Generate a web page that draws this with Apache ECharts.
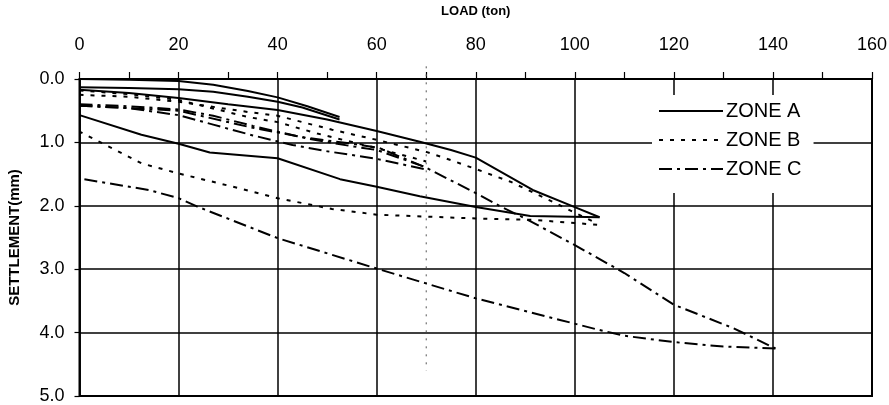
<!DOCTYPE html>
<html>
<head>
<meta charset="utf-8">
<script src="https://cdn.jsdelivr.net/npm/echarts@6/dist/echarts.min.js"></script>
<style>
html,body{margin:0;padding:0;background:#fff;}
#chart{width:889px;height:405px;}
</style>
</head>
<body>
<div id="chart"></div>
<script>
// ---- data: [load (ton), settlement (mm)] ----
const xTicks = [0, 20, 40, 60, 80, 100, 120, 140, 160];
const yTicks = [0, 1, 2, 3, 4, 5];
const legendNames = ['ZONE A', 'ZONE B', 'ZONE C'];

// ZONE A (solid)
const zoneA_load1   = [[0,0],[10,0.01],[20,0.03],[27,0.09],[34,0.19],[40,0.29],[46,0.43],[52.5,0.6]];
const zoneA_unload1 = [[52.5,0.64],[45,0.45],[40,0.36],[34,0.28],[27,0.2],[20,0.16],[10,0.14],[0,0.13]];
const zoneA_load2   = [[0,0.17],[10,0.22],[20,0.3],[30,0.4],[40,0.49],[50,0.64],[60,0.82],[68.7,0.99],[75,1.12],[80,1.24],[91.5,1.75],[100,2.02],[105,2.18]];
const zoneA_unload2 = [[105,2.18],[91,2.16],[80,2.02],[68.7,1.85],[60,1.7],[52.6,1.58],[40,1.25],[26.3,1.16],[20,1.02],[12.5,0.88],[0,0.57]];

// ZONE B (dotted)
const zoneB_load1   = [[0,0.18],[10,0.24],[20,0.33],[34,0.6],[40,0.68],[48,0.86],[60,1.09],[70,1.3]];
const zoneB_load2   = [[0,0.25],[10,0.28],[20,0.36],[34,0.52],[40,0.58],[51,0.8],[60,0.96],[70,1.15],[75,1.28],[80,1.42],[87,1.62],[95.6,1.94],[104.5,2.28]];
const zoneB_unload2 = [[104.5,2.3],[100,2.27],[91,2.22],[80,2.2],[60,2.14],[51,2.05],[40,1.88],[30,1.68],[20,1.49],[12.5,1.33],[0,0.83]];

// ZONE C (dash-dot)
const zoneC_load1   = [[0,0.4],[10,0.43],[20,0.48],[27,0.58],[35,0.74],[46,0.94],[55,1.06],[60,1.12],[69.5,1.38]];
const zoneC_unload1 = [[69.5,1.42],[60,1.26],[50,1.14],[43,1.04],[35,0.89],[27,0.72],[20,0.57],[10,0.46],[0,0.42]];
const zoneC_load2   = [[0,0.42],[20,0.5],[35,0.77],[46,0.93],[55,1.02],[60.6,1.09],[70,1.4],[80,1.8],[85,2.01],[90,2.2],[100,2.62],[110,3.06],[120,3.56],[132,3.93],[140.5,4.25]];
const zoneC_unload2 = [[140.5,4.25],[130,4.22],[120,4.15],[110,4.05],[105,3.96],[97,3.8],[80,3.46],[60,2.99],[40,2.51],[23.7,2.01],[20,1.88],[14,1.75],[0,1.57]];

// reference dotted vertical line at load 70, and the right-hand frame line at load 160
const refLine = [[70,-0.2],[70,4.6]];
const frameRight = [[160,0],[160,5]];

const FONT = "'Liberation Sans', Arial, sans-serif";
const styles = {
  'ZONE A': { type: 'solid' },
  'ZONE B': { type: [4, 7] },
  'ZONE C': { type: [13, 5, 3, 5] }
};
function mk(name, data) {
  return {
    type: 'line', name: name, data: data, symbol: 'none', showSymbol: false, smooth: false,
    lineStyle: { color: '#000', width: 2, type: styles[name].type },
    itemStyle: { color: '#000', opacity: 0 }, z: 3, animation: false
  };
}
const series = [
  mk('ZONE A', zoneA_load1), mk('ZONE A', zoneA_unload1), mk('ZONE A', zoneA_load2), mk('ZONE A', zoneA_unload2),
  mk('ZONE B', zoneB_load1), mk('ZONE B', zoneB_load2), mk('ZONE B', zoneB_unload2),
  mk('ZONE C', zoneC_load1), mk('ZONE C', zoneC_unload1), mk('ZONE C', zoneC_load2), mk('ZONE C', zoneC_unload2),
  { type: 'line', name: 'ref', data: refLine, symbol: 'none', silent: true, clip: false,
    lineStyle: { color: '#555', width: 1, type: [2, 6] }, z: 2, animation: false },
  { type: 'line', name: 'frame', data: frameRight, symbol: 'none', silent: true, clip: false,
    lineStyle: { color: '#000', width: 2, type: 'solid' }, z: 4, animation: false }
];

const chart = echarts.init(document.getElementById('chart'), null, { renderer: 'canvas' });
chart.setOption({
  backgroundColor: '#fff',
  animation: false,
  grid: { left: 79.5, right: 17, top: 79, bottom: 9, containLabel: false, outerBoundsMode: 'none',
          show: true, borderColor: '#000', borderWidth: 2, backgroundColor: 'transparent' },
  legend: {
    data: legendNames, orient: 'vertical', left: 652, top: 95,
    backgroundColor: '#fff', padding: [6, 12, 14, 6],
    itemWidth: 64, itemHeight: 14, itemGap: 9,
    itemStyle: { opacity: 0, borderWidth: 0 },
    textStyle: { fontFamily: FONT, fontSize: 20, color: '#000', lineHeight: 20, padding: [0, 0, 0, -2] },
    selectedMode: false, z: 10
  },
  xAxis: {
    type: 'value', position: 'top', min: xTicks[0], max: xTicks[xTicks.length - 1], interval: 20,
    name: 'LOAD (ton)', nameLocation: 'middle', nameGap: 61,
    nameTextStyle: { fontFamily: FONT, fontSize: 13, fontWeight: 'bold', color: '#000' },
    axisLine: { show: true, lineStyle: { color: '#000', width: 1.5 } },
    axisTick: { show: true, inside: false, length: 7, lineStyle: { color: '#000', width: 1.2 } },
    minorTick: { show: true, splitNumber: 2, length: 7, lineStyle: { color: '#000', width: 1.2 } },
    axisLabel: { fontFamily: FONT, fontSize: 18, color: '#000', margin: 25 },
    splitLine: { show: true, lineStyle: { color: '#000', width: 1.5 } }
  },
  yAxis: {
    type: 'value', inverse: true, min: yTicks[0], max: yTicks[yTicks.length - 1], interval: 1,
    name: 'SETTLEMENT(mm)', nameLocation: 'middle', nameGap: 57, nameRotate: 90,
    nameTextStyle: { fontFamily: FONT, fontSize: 15, fontWeight: 'bold', color: '#000' },
    axisLine: { show: true, lineStyle: { color: '#000', width: 1.5 } },
    axisTick: { show: true, inside: false, length: 5, lineStyle: { color: '#000', width: 1.2 } },
    axisLabel: { fontFamily: FONT, fontSize: 18, color: '#000', margin: 15, formatter: v => v.toFixed(1) },
    splitLine: { show: true, lineStyle: { color: '#000', width: 1.5 } }
  },
  series: series
});
</script>
</body>
</html>
